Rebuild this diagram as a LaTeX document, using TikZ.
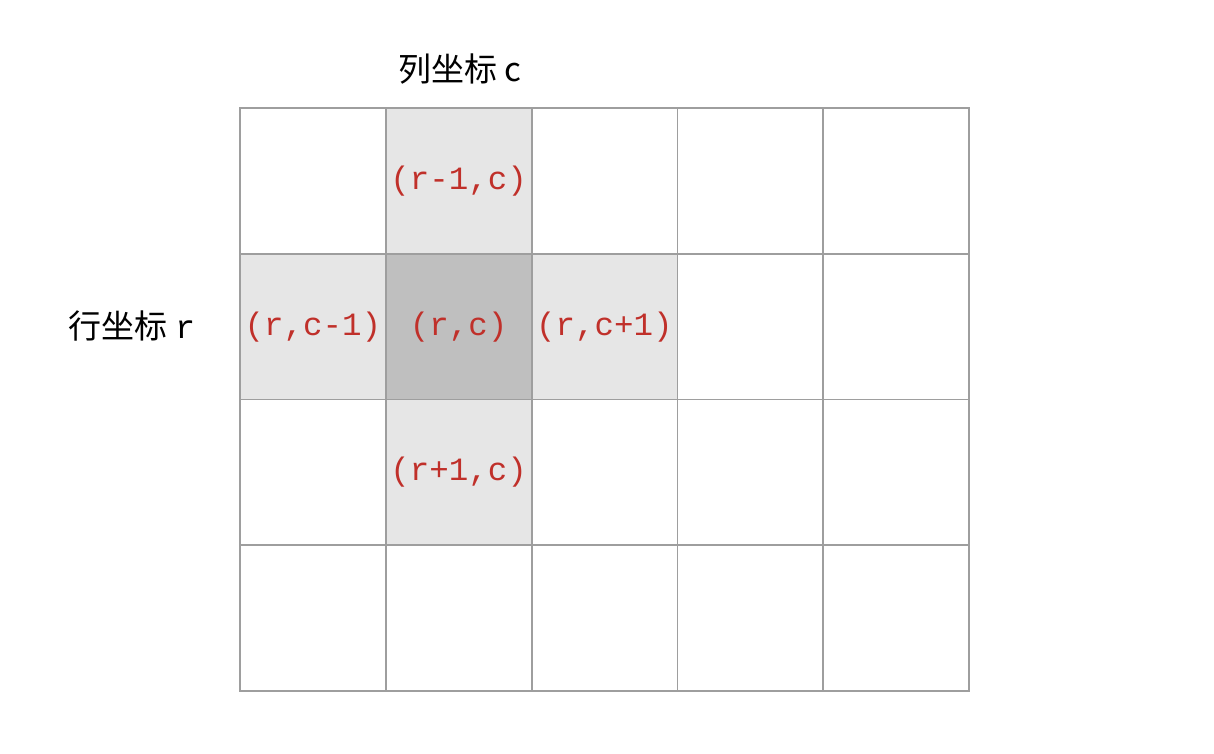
\documentclass[tikz,border=0pt]{standalone}
\usepackage{fontspec}
\setmonofont{Liberation Mono}
\newfontfamily\cjk{Noto Sans CJK SC}
\definecolor{gridline}{HTML}{9E9E9E}
\definecolor{lightcell}{HTML}{E6E6E6}
\definecolor{darkcell}{HTML}{BFBFBF}
\definecolor{labred}{HTML}{C0302A}
\tikzset{
  cell/.style={draw=gridline, line width=1.8pt, minimum width=145.8pt, minimum height=145.75pt, inner sep=0pt, outer sep=0pt, anchor=center},
  celltext/.style={font=\fontsize{32.5}{36}\selectfont\ttfamily, text=labred, inner sep=0pt},
  axislabel/.style={font=\fontsize{33}{38}\selectfont\cjk, text=black, inner sep=0pt}
}
\begin{document}
\begin{tikzpicture}[x=1pt,y=-1pt]
\useasboundingbox (0,0) rectangle (1214,754);
\fill[white] (0,0) rectangle (1214,754);
\foreach \i in {1,...,4}{
  \foreach \j in {1,...,5}{
    \pgfmathsetmacro{\cx}{240+145.8*(\j-1)+72.9}
    \pgfmathsetmacro{\cy}{108+145.75*(\i-1)+72.875}
    \def\fillc{white}
    \ifnum\i=1 \ifnum\j=2 \def\fillc{lightcell}\fi\fi
    \ifnum\i=3 \ifnum\j=2 \def\fillc{lightcell}\fi\fi
    \ifnum\i=2 \ifnum\j=1 \def\fillc{lightcell}\fi\fi
    \ifnum\i=2 \ifnum\j=3 \def\fillc{lightcell}\fi\fi
    \ifnum\i=2 \ifnum\j=2 \def\fillc{darkcell}\fi\fi
    \node[cell, fill=\fillc] (c-\i-\j) at (\cx,\cy) {};
  }
}
% redraw borders on top so all lines are uniform
\foreach \i in {1,...,4}{
  \foreach \j in {1,...,5}{
    \draw[draw=gridline, line width=1.8pt] (c-\i-\j.north west) rectangle (c-\i-\j.south east);
  }
}
\node[celltext] (up) at (c-1-2) {(r-1,c)};
\node[celltext] (left) at (c-2-1) {(r,c-1)};
\node[celltext] (mid) at (c-2-2) {(r,c)};
\node[celltext] (right) at (c-2-3) {(r,c+1)};
\node[celltext] (down) at (c-3-2) {(r+1,c)};
\node[axislabel] (collabel) at (460,69) {列坐标 c};
\node[axislabel] (rowlabel) at (132,326) {行坐标 {\ttfamily r}};
\end{tikzpicture}
\end{document}
